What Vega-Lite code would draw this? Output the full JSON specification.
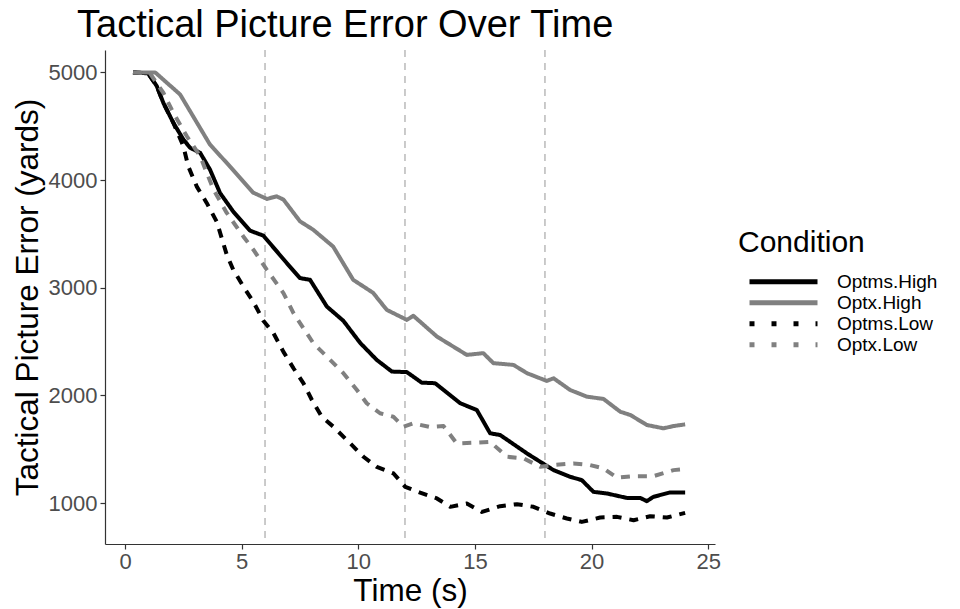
{
  "$schema": "https://vega.github.io/schema/vega-lite/v6.json",
  "autosize": "none",
  "width": 610,
  "height": 494,
  "padding": {"left": 105, "top": 50, "right": 245, "bottom": 65},
  "background": "white",
  "config": {
    "view": {"stroke": null},
    "font": "Liberation Sans",
    "axis": {"grid": false, "domainColor": "#333333", "domainWidth": 1.2, "tickColor": "#333333", "tickSize": 5, "tickWidth": 1.2, "labelColor": "#4D4D4D", "labelFontSize": 22, "titleFontSize": 31.5, "titleFontWeight": "normal", "titleColor": "black", "labelFont": "Liberation Sans", "titleFont": "Liberation Sans"},
    "legend": {"title": "Condition", "orient": "none", "legendX": 633, "legendY": 178, "titleFontSize": 30, "titleFontWeight": "normal", "titleColor": "black", "titlePadding": 14, "labelFontSize": 19, "labelColor": "black", "labelOffset": 17, "symbolType": "stroke", "symbolSize": 4624, "symbolStrokeWidth": 5, "symbolOffset": 9, "rowPadding": 1, "clipHeight": 19.5, "padding": 0}
  },
  "title": {"text": "Tactical Picture Error Over Time", "anchor": "start", "frame": "group", "dx": -28, "offset": 4, "fontSize": 38, "fontWeight": "normal", "font": "Liberation Sans", "color": "black"},
  "resolve": {"scale": {"color": "independent", "strokeDash": "independent"}, "legend": {"color": "independent", "strokeDash": "independent"}},
  "layer": [
    {
      "data": {"values": [{"x": 6}, {"x": 12}, {"x": 18}]},
      "mark": {"type": "rule", "color": "#BEBEBE", "strokeWidth": 1.6, "strokeDash": [7, 6]},
      "encoding": {"x": {"field": "x", "type": "quantitative", "scale": {"domain": [-0.86, 25.29], "nice": false, "zero": false}}}
    },
    {
      "data": {"values": [
        {"Condition": "Optms.High", "t": 0.34, "v": 5000},
        {"Condition": "Optms.High", "t": 0.99, "v": 4991},
        {"Condition": "Optms.High", "t": 1.36, "v": 4873},
        {"Condition": "Optms.High", "t": 1.64, "v": 4718},
        {"Condition": "Optms.High", "t": 2.07, "v": 4532},
        {"Condition": "Optms.High", "t": 2.5, "v": 4377},
        {"Condition": "Optms.High", "t": 2.79, "v": 4300},
        {"Condition": "Optms.High", "t": 3.22, "v": 4253},
        {"Condition": "Optms.High", "t": 3.64, "v": 4098},
        {"Condition": "Optms.High", "t": 4.07, "v": 3881},
        {"Condition": "Optms.High", "t": 4.64, "v": 3707},
        {"Condition": "Optms.High", "t": 5.36, "v": 3530},
        {"Condition": "Optms.High", "t": 5.93, "v": 3484},
        {"Condition": "Optms.High", "t": 6.93, "v": 3230},
        {"Condition": "Optms.High", "t": 7.5, "v": 3090},
        {"Condition": "Optms.High", "t": 7.93, "v": 3074},
        {"Condition": "Optms.High", "t": 8.65, "v": 2826},
        {"Condition": "Optms.High", "t": 9.36, "v": 2693},
        {"Condition": "Optms.High", "t": 10.08, "v": 2488},
        {"Condition": "Optms.High", "t": 10.79, "v": 2330},
        {"Condition": "Optms.High", "t": 11.44, "v": 2222},
        {"Condition": "Optms.High", "t": 12.08, "v": 2217},
        {"Condition": "Optms.High", "t": 12.72, "v": 2119},
        {"Condition": "Optms.High", "t": 13.29, "v": 2114},
        {"Condition": "Optms.High", "t": 14.37, "v": 1928},
        {"Condition": "Optms.High", "t": 15.08, "v": 1865},
        {"Condition": "Optms.High", "t": 15.65, "v": 1649},
        {"Condition": "Optms.High", "t": 16.08, "v": 1633},
        {"Condition": "Optms.High", "t": 17.23, "v": 1462},
        {"Condition": "Optms.High", "t": 17.8, "v": 1384},
        {"Condition": "Optms.High", "t": 18.37, "v": 1307},
        {"Condition": "Optms.High", "t": 19.08, "v": 1245},
        {"Condition": "Optms.High", "t": 19.58, "v": 1214},
        {"Condition": "Optms.High", "t": 20.08, "v": 1105},
        {"Condition": "Optms.High", "t": 20.66, "v": 1090},
        {"Condition": "Optms.High", "t": 21.51, "v": 1049},
        {"Condition": "Optms.High", "t": 22.08, "v": 1049},
        {"Condition": "Optms.High", "t": 22.37, "v": 1019},
        {"Condition": "Optms.High", "t": 22.65, "v": 1059},
        {"Condition": "Optms.High", "t": 23.37, "v": 1100},
        {"Condition": "Optms.High", "t": 24.01, "v": 1100},

        {"Condition": "Optx.High", "t": 0.34, "v": 5000},
        {"Condition": "Optx.High", "t": 1.29, "v": 5000},
        {"Condition": "Optx.High", "t": 2.36, "v": 4795},
        {"Condition": "Optx.High", "t": 3.64, "v": 4330},
        {"Condition": "Optx.High", "t": 4.5, "v": 4126},
        {"Condition": "Optx.High", "t": 5.49, "v": 3884},
        {"Condition": "Optx.High", "t": 6.08, "v": 3825},
        {"Condition": "Optx.High", "t": 6.5, "v": 3849},
        {"Condition": "Optx.High", "t": 6.79, "v": 3819},
        {"Condition": "Optx.High", "t": 7.5, "v": 3617},
        {"Condition": "Optx.High", "t": 8.06, "v": 3540},
        {"Condition": "Optx.High", "t": 8.92, "v": 3383},
        {"Condition": "Optx.High", "t": 9.78, "v": 3074},
        {"Condition": "Optx.High", "t": 10.63, "v": 2954},
        {"Condition": "Optx.High", "t": 11.22, "v": 2795},
        {"Condition": "Optx.High", "t": 12.08, "v": 2702},
        {"Condition": "Optx.High", "t": 12.36, "v": 2740},
        {"Condition": "Optx.High", "t": 13.37, "v": 2547},
        {"Condition": "Optx.High", "t": 14.65, "v": 2377},
        {"Condition": "Optx.High", "t": 15.36, "v": 2393},
        {"Condition": "Optx.High", "t": 15.79, "v": 2300},
        {"Condition": "Optx.High", "t": 16.65, "v": 2284},
        {"Condition": "Optx.High", "t": 17.23, "v": 2207},
        {"Condition": "Optx.High", "t": 18.08, "v": 2135},
        {"Condition": "Optx.High", "t": 18.37, "v": 2160},
        {"Condition": "Optx.High", "t": 19.08, "v": 2051},
        {"Condition": "Optx.High", "t": 19.8, "v": 1989},
        {"Condition": "Optx.High", "t": 20.51, "v": 1968},
        {"Condition": "Optx.High", "t": 21.23, "v": 1849},
        {"Condition": "Optx.High", "t": 21.66, "v": 1819},
        {"Condition": "Optx.High", "t": 22.37, "v": 1726},
        {"Condition": "Optx.High", "t": 23.08, "v": 1695},
        {"Condition": "Optx.High", "t": 23.51, "v": 1716},
        {"Condition": "Optx.High", "t": 24.01, "v": 1732},

        {"Condition": "Optms.Low", "t": 0.34, "v": 5000},
        {"Condition": "Optms.Low", "t": 0.99, "v": 4991},
        {"Condition": "Optms.Low", "t": 1.36, "v": 4873},
        {"Condition": "Optms.Low", "t": 1.64, "v": 4718},
        {"Condition": "Optms.Low", "t": 2.07, "v": 4532},
        {"Condition": "Optms.Low", "t": 2.5, "v": 4314},
        {"Condition": "Optms.Low", "t": 2.71, "v": 4128},
        {"Condition": "Optms.Low", "t": 3.07, "v": 3942},
        {"Condition": "Optms.Low", "t": 3.5, "v": 3788},
        {"Condition": "Optms.Low", "t": 3.93, "v": 3614},
        {"Condition": "Optms.Low", "t": 4.36, "v": 3307},
        {"Condition": "Optms.Low", "t": 4.64, "v": 3167},
        {"Condition": "Optms.Low", "t": 5.07, "v": 3012},
        {"Condition": "Optms.Low", "t": 5.5, "v": 2870},
        {"Condition": "Optms.Low", "t": 5.93, "v": 2693},
        {"Condition": "Optms.Low", "t": 6.36, "v": 2579},
        {"Condition": "Optms.Low", "t": 6.79, "v": 2405},
        {"Condition": "Optms.Low", "t": 7.22, "v": 2253},
        {"Condition": "Optms.Low", "t": 7.65, "v": 2113},
        {"Condition": "Optms.Low", "t": 8.01, "v": 1958},
        {"Condition": "Optms.Low", "t": 8.43, "v": 1803},
        {"Condition": "Optms.Low", "t": 8.93, "v": 1710},
        {"Condition": "Optms.Low", "t": 9.51, "v": 1586},
        {"Condition": "Optms.Low", "t": 10.22, "v": 1431},
        {"Condition": "Optms.Low", "t": 10.79, "v": 1338},
        {"Condition": "Optms.Low", "t": 11.51, "v": 1276},
        {"Condition": "Optms.Low", "t": 12.01, "v": 1152},
        {"Condition": "Optms.Low", "t": 12.65, "v": 1098},
        {"Condition": "Optms.Low", "t": 13.37, "v": 1044},
        {"Condition": "Optms.Low", "t": 13.94, "v": 966},
        {"Condition": "Optms.Low", "t": 14.65, "v": 997},
        {"Condition": "Optms.Low", "t": 15.3, "v": 919},
        {"Condition": "Optms.Low", "t": 16.08, "v": 972},
        {"Condition": "Optms.Low", "t": 16.8, "v": 991},
        {"Condition": "Optms.Low", "t": 17.51, "v": 966},
        {"Condition": "Optms.Low", "t": 18.22, "v": 904},
        {"Condition": "Optms.Low", "t": 18.94, "v": 858},
        {"Condition": "Optms.Low", "t": 19.58, "v": 826},
        {"Condition": "Optms.Low", "t": 20.37, "v": 867},
        {"Condition": "Optms.Low", "t": 21.09, "v": 873},
        {"Condition": "Optms.Low", "t": 21.8, "v": 842},
        {"Condition": "Optms.Low", "t": 22.51, "v": 879},
        {"Condition": "Optms.Low", "t": 23.23, "v": 867},
        {"Condition": "Optms.Low", "t": 24.01, "v": 910},

        {"Condition": "Optx.Low", "t": 0.34, "v": 5000},
        {"Condition": "Optx.Low", "t": 1.07, "v": 4991},
        {"Condition": "Optx.Low", "t": 1.64, "v": 4811},
        {"Condition": "Optx.Low", "t": 2.07, "v": 4625},
        {"Condition": "Optx.Low", "t": 2.65, "v": 4407},
        {"Condition": "Optx.Low", "t": 3.22, "v": 4221},
        {"Condition": "Optx.Low", "t": 3.79, "v": 3912},
        {"Condition": "Optx.Low", "t": 4.36, "v": 3695},
        {"Condition": "Optx.Low", "t": 5.07, "v": 3477},
        {"Condition": "Optx.Low", "t": 5.5, "v": 3354},
        {"Condition": "Optx.Low", "t": 6.08, "v": 3167},
        {"Condition": "Optx.Low", "t": 6.79, "v": 2951},
        {"Condition": "Optx.Low", "t": 7.22, "v": 2765},
        {"Condition": "Optx.Low", "t": 8.07, "v": 2486},
        {"Condition": "Optx.Low", "t": 8.79, "v": 2330},
        {"Condition": "Optx.Low", "t": 9.36, "v": 2207},
        {"Condition": "Optx.Low", "t": 9.94, "v": 2051},
        {"Condition": "Optx.Low", "t": 10.36, "v": 1928},
        {"Condition": "Optx.Low", "t": 10.93, "v": 1835},
        {"Condition": "Optx.Low", "t": 11.5, "v": 1803},
        {"Condition": "Optx.Low", "t": 11.93, "v": 1710},
        {"Condition": "Optx.Low", "t": 12.36, "v": 1741},
        {"Condition": "Optx.Low", "t": 13.08, "v": 1707},
        {"Condition": "Optx.Low", "t": 13.65, "v": 1716},
        {"Condition": "Optx.Low", "t": 14.22, "v": 1555},
        {"Condition": "Optx.Low", "t": 14.94, "v": 1561},
        {"Condition": "Optx.Low", "t": 15.65, "v": 1570},
        {"Condition": "Optx.Low", "t": 16.37, "v": 1431},
        {"Condition": "Optx.Low", "t": 17.08, "v": 1416},
        {"Condition": "Optx.Low", "t": 17.8, "v": 1338},
        {"Condition": "Optx.Low", "t": 18.37, "v": 1354},
        {"Condition": "Optx.Low", "t": 19.22, "v": 1369},
        {"Condition": "Optx.Low", "t": 19.94, "v": 1354},
        {"Condition": "Optx.Low", "t": 20.51, "v": 1323},
        {"Condition": "Optx.Low", "t": 21.09, "v": 1237},
        {"Condition": "Optx.Low", "t": 21.8, "v": 1251},
        {"Condition": "Optx.Low", "t": 22.65, "v": 1251},
        {"Condition": "Optx.Low", "t": 23.51, "v": 1307},
        {"Condition": "Optx.Low", "t": 24.01, "v": 1316}
      ]},
      "mark": {"type": "line", "strokeWidth": 4, "strokeCap": "butt", "strokeJoin": "round"},
      "encoding": {
        "x": {"field": "t", "type": "quantitative", "scale": {"domain": [-0.86, 25.29], "nice": false, "zero": false}, "axis": {"title": "Time (s)", "values": [0, 5, 10, 15, 20, 25], "labelPadding": 2, "titlePadding": 3}},
        "y": {"field": "v", "type": "quantitative", "scale": {"domain": [621, 5208], "nice": false, "zero": false}, "axis": {"title": "Tactical Picture Error (yards)", "values": [1000, 2000, 3000, 4000, 5000], "format": "d", "labelPadding": 3, "titlePadding": 4}},
        "color": {"field": "Condition", "type": "nominal", "scale": {"domain": ["Optms.High", "Optx.High", "Optms.Low", "Optx.Low"], "range": ["#000000", "#808080", "#000000", "#808080"]}, "legend": null},
        "strokeDash": {"field": "Condition", "type": "nominal", "scale": {"domain": ["Optms.High", "Optx.High", "Optms.Low", "Optx.Low"], "range": [[1, 0], [1, 0], [9, 8], [9, 8]]}, "legend": null}
      }
    },
    {
      "data": {"values": []},
      "mark": {"type": "line", "strokeWidth": 5, "strokeCap": "butt"},
      "encoding": {
        "x": {"field": "t", "type": "quantitative"},
        "y": {"field": "v", "type": "quantitative"},
        "color": {"field": "Condition", "type": "nominal", "title": "Condition", "scale": {"domain": ["Optms.High", "Optx.High", "Optms.Low", "Optx.Low"], "range": ["#000000", "#808080", "#000000", "#808080"]}},
        "strokeDash": {"field": "Condition", "type": "nominal", "title": "Condition", "scale": {"domain": ["Optms.High", "Optx.High", "Optms.Low", "Optx.Low"], "range": [[1, 0], [1, 0], [5, 17], [5, 17]]}}
      }
    }
  ]
}
